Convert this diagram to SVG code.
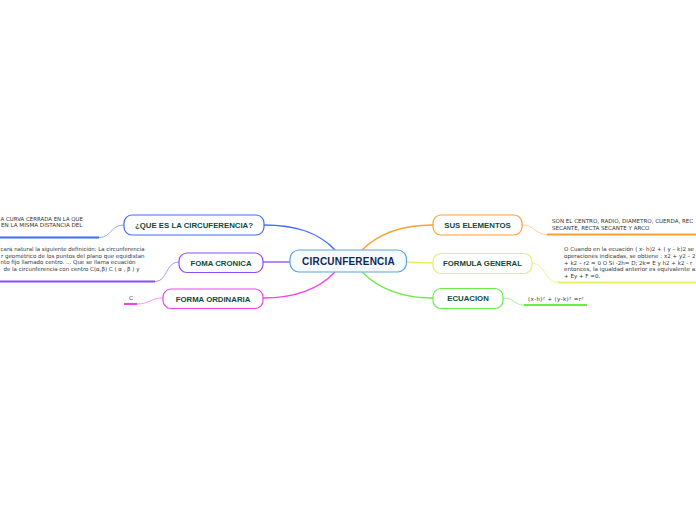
<svg xmlns="http://www.w3.org/2000/svg" width="696" height="520" viewBox="0 0 696 520">
<style>
.bg{fill:#ffffff}
.node{fill:#ffffff;stroke-width:1.2}
.lbl{font-family:"Liberation Sans",Arial,sans-serif;font-weight:bold;font-size:7.8px;fill:#0f4a3a;text-anchor:middle}
.center-lbl{font-family:"Liberation Sans",Arial,sans-serif;font-weight:bold;font-size:10px;fill:#142850;text-anchor:middle;letter-spacing:0.2px}
.note{font-family:"DejaVu Sans",Verdana,sans-serif;font-size:5.55px;fill:#333333}
.link{fill:none;stroke-width:1.3}
.sub{fill:none;stroke-width:1}
.under{fill:none;stroke-width:2}
</style>
<rect class="bg" x="0" y="0" width="696" height="520"/>
<g id="connectors">
  <path class="link" stroke="#3d6bff" d="M335,250 C318,232 295,225 264,225"/>
  <path class="link" stroke="#8a4dff" d="M290,262 L263,262"/>
  <path class="link" stroke="#ee44ee" d="M335,272 C318,290 295,298 263,298"/>
  <path class="link" stroke="#ffa030" d="M362,250 C380,232 405,225 433,225"/>
  <path class="link" stroke="#e6f060" d="M406,262 L433,263"/>
  <path class="link" stroke="#66ee44" d="M362,272 C380,290 405,298 433,298"/>
  <path class="sub" stroke="#8fa8ff" d="M124,225 C110,225 112,237.5 99,237.5"/>
  <path class="under" stroke="#3d6bff" d="M0,237.5 H99"/>
  <path class="sub" stroke="#b494ff" d="M179,262 C165,262 168,281.5 155,281.5"/>
  <path class="under" stroke="#8a4dff" d="M0,281.5 H155"/>
  <path class="sub" stroke="#f598f5" d="M163,298 C150,298 150,304 137,304"/>
  <path class="under" stroke="#ee44ee" d="M124,304 H137"/>
  <path class="sub" stroke="#ffcf90" d="M522,225 C535,225 535,234.5 547,234.5"/>
  <path class="under" stroke="#ffa030" d="M547,234.5 H696"/>
  <path class="sub" stroke="#eef49a" d="M532,263 C545,263 545,282.5 558,282.5"/>
  <path class="under" stroke="#e6f060" d="M558,282.5 H696"/>
  <path class="sub" stroke="#a6f590" d="M503,298 C514,298 514,305 524,305"/>
  <path class="under" stroke="#66ee44" d="M524,305 H587"/>
</g>
<g id="center">
  <rect x="290" y="250" width="116.5" height="22" rx="9" fill="#f5faff" stroke="#5fa3dc" stroke-width="1.2"/>
  <text class="center-lbl" x="348.5" y="264.6">CIRCUNFERENCIA</text>
</g>
<g id="que-es">
  <rect class="node" x="124" y="215" width="140" height="20" rx="8" stroke="#3d6bff"/>
  <text class="lbl" x="194" y="227.8">¿QUE ES LA CIRCUFERENCIA?</text>
</g>
<g id="que-es-note">
  <text class="note" x="0.6" y="220.5" textLength="82.4" lengthAdjust="spacingAndGlyphs">A CURVA CERRADA EN LA QUE</text>
  <text class="note" x="1" y="227" textLength="81.5" lengthAdjust="spacingAndGlyphs">EN LA MISMA DISTANCIA DEL</text>
</g>
<g id="foma-cronica">
  <rect class="node" x="179" y="253" width="84" height="19.5" rx="8" stroke="#8a4dff"/>
  <text class="lbl" x="221" y="265.5">FOMA CRONICA</text>
</g>
<g id="foma-note">
  <text class="note" x="0.6" y="251" textLength="143.9" lengthAdjust="spacingAndGlyphs">cará natural la siguiente definición: La circunferencia</text>
  <text class="note" x="1" y="257.5" textLength="143.5" lengthAdjust="spacingAndGlyphs">r geométrico de los puntos del plano que equidistan</text>
  <text class="note" x="0.6" y="264" textLength="134.9" lengthAdjust="spacingAndGlyphs">nto fijo llamado centro. ... Que se llama ecuación</text>
  <text class="note" x="3.5" y="270.5" textLength="136" lengthAdjust="spacingAndGlyphs">de la circunferencia con centro C(α,β) C ( α , β ) y</text>
</g>
<g id="forma-ordinaria">
  <rect class="node" x="163" y="289" width="100" height="19.5" rx="8" stroke="#ee44ee"/>
  <text class="lbl" x="213" y="301.5">FORMA ORDINARIA</text>
</g>
<g id="forma-note">
  <text class="note" x="131" y="300" text-anchor="middle">C</text>
</g>
<g id="sus-elementos">
  <rect class="node" x="433" y="215" width="89" height="20" rx="8" stroke="#ffa030"/>
  <text class="lbl" x="477.5" y="227.8">SUS ELEMENTOS</text>
</g>
<g id="sus-note">
  <text class="note" x="552" y="222.7">SON EL CENTRO, RADIO, DIAMETRO, CUERDA, REC</text>
  <text class="note" x="552" y="230.2">SECANTE, RECTA SECANTE Y ARCO</text>
</g>
<g id="formula-general">
  <rect class="node" x="433" y="253.5" width="99" height="20" rx="8" stroke="#e6f060"/>
  <text class="lbl" x="482.5" y="266.3">FORMULA GENERAL</text>
</g>
<g id="formula-note">
  <text class="note" x="564" y="251.3">O Cuando en la ecuación ( x- h)2 + ( y – k)2 se</text>
  <text class="note" x="564" y="257.9">operaciones indicadas, se obtiene : x2 + y2 – 2</text>
  <text class="note" x="564" y="264.5">+ k2 – r2 = 0 O Si -2h= D; 2k= E y h2 + k2 - r</text>
  <text class="note" x="564" y="271.1">entonces, la igualdad anterior es equivalente a:</text>
  <text class="note" x="564" y="277.7">+ Ey + F =0.</text>
</g>
<g id="ecuacion">
  <rect class="node" x="433" y="288.5" width="70" height="20" rx="8" stroke="#66ee44"/>
  <text class="lbl" x="468" y="301.3">ECUACION</text>
</g>
<g id="ecuacion-note">
  <text class="note" x="528" y="301.3" textLength="55.5" lengthAdjust="spacing">(x-h)² + (y-k)² =r²</text>
</g>
</svg>
